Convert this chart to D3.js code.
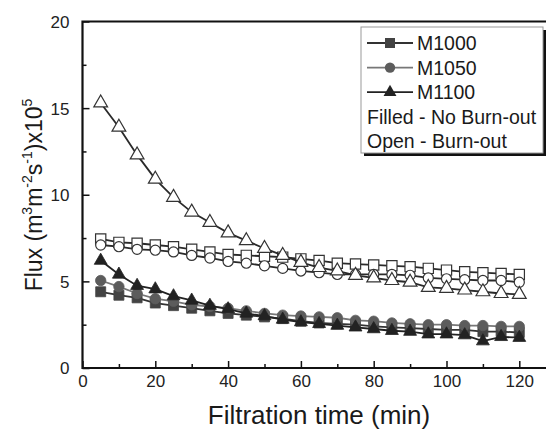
<!DOCTYPE html>
<html lang="en">
<head>
  <meta charset="UTF-8">
  <title>Flux vs filtration time</title>
  <script src="https://d3js.org/d3.v7.min.js"></script>
  <style>
    body { margin: 0; padding: 0; background: #fff; }
    svg { display: block; font-family: 'Liberation Sans', Arial, sans-serif; }
  </style>
</head>
<body>
  <div id="chart"></div>
  <script>
    // filtration time (min)
    const time = [5, 10, 15, 20, 25, 30, 35, 40, 45, 50, 55, 60, 65, 70, 75, 80, 85, 90, 95, 100, 105, 110, 115, 120];

    // flux x10^5, filled = no burn-out
    const m1000Filled = [4.4, 4.2, 4.05, 3.75, 3.6, 3.45, 3.3, 3.15, 3.05, 2.95, 2.85, 2.7, 2.6, 2.55, 2.5, 2.4, 2.35, 2.3, 2.25, 2.2, 2.2, 2.1, 2.1, 2.05];
    const m1050Filled = [5.05, 4.7, 4.3, 4.0, 3.85, 3.65, 3.55, 3.45, 3.3, 3.15, 3.05, 3.0, 2.95, 2.9, 2.75, 2.7, 2.6, 2.55, 2.5, 2.5, 2.45, 2.45, 2.4, 2.4];
    const m1100Filled = [6.2, 5.4, 4.75, 4.55, 4.15, 3.9, 3.6, 3.4, 3.15, 3.0, 2.8, 2.65, 2.55, 2.45, 2.35, 2.25, 2.15, 2.1, 1.95, 1.95, 1.9, 1.55, 1.8, 1.75];

    // open = burn-out
    const m1000Open = [7.45, 7.25, 7.2, 7.1, 7.0, 6.85, 6.7, 6.55, 6.5, 6.45, 6.4, 6.3, 6.2, 6.05, 6.0, 5.95, 5.9, 5.85, 5.75, 5.65, 5.55, 5.5, 5.45, 5.4];
    const m1050Open = [7.1, 7.0, 6.85, 6.8, 6.7, 6.5, 6.35, 6.15, 6.05, 5.9, 5.75, 5.6, 5.5, 5.4, 5.4, 5.4, 5.4, 5.35, 5.2, 5.15, 5.1, 5.05, 5.05, 4.95];
    const m1100Open = [15.3, 13.9, 12.3, 10.9, 9.85, 9.0, 8.4, 7.8, 7.35, 6.9, 6.5, 6.1, 5.8, 5.6, 5.35, 5.2, 5.05, 4.95, 4.65, 4.6, 4.5, 4.4, 4.3, 4.25];

    const xTicks = [0, 20, 40, 60, 80, 100, 120];
    const yTicks = [0, 5, 10, 15, 20];
    const legendLabels = ["M1000", "M1050", "M1100"];
    const legendNotes = ["Filled - No Burn-out", "Open - Burn-out"];

    const W = 546, H = 429;
    const svg = d3.select("#chart").append("svg")
      .attr("width", W)
      .attr("height", H);

    const x = d3.scaleLinear().domain([0, 140]).range([82.5, 82.5 + 140 * 3.64]);
    const y = d3.scaleLinear().domain([0, 20]).range([368, 21.5]);

    const styles = {
      M1000: { sym: d3.symbolSquare, size: 100, fill: "#434343", line: "#333", openSize: 105 },
      M1050: { sym: d3.symbolCircle, size: 85, fill: "#5c5c5c", line: "#777", openSize: 80 },
      M1100: { sym: d3.symbolTriangle, size: 72, fill: "#222", line: "#222", openSize: 82 }
    };

    const series = [
      { key: "M1000", open: true, values: m1000Open },
      { key: "M1050", open: true, values: m1050Open },
      { key: "M1100", open: true, values: m1100Open },
      { key: "M1000", open: false, values: m1000Filled },
      { key: "M1050", open: false, values: m1050Filled },
      { key: "M1100", open: false, values: m1100Filled }
    ];

    const line = d3.line()
      .x(d => x(d[0]))
      .y(d => y(d[1]));

    series.forEach(s => {
      const st = styles[s.key];
      const pts = time.map((t, i) => [t, s.values[i]]);
      const g = svg.append("g");
      g.append("path")
        .attr("d", line(pts))
        .attr("fill", "none")
        .attr("stroke", s.open ? "#2a2a2a" : st.line)
        .attr("stroke-width", 1.8);
      g.selectAll("path.pt")
        .data(pts)
        .enter().append("path")
        .attr("class", "pt")
        .attr("transform", d => "translate(" + x(d[0]) + "," + y(d[1]) + ")")
        .attr("d", d3.symbol().type(st.sym).size(s.open ? st.openSize : st.size))
        .attr("fill", s.open ? "#fff" : st.fill)
        .attr("stroke", s.open ? "#333" : st.fill)
        .attr("stroke-width", s.open ? 1.2 : 0.8);
    });

    // axes (ticks point inward)
    const xAxis = svg.append("g")
      .attr("transform", "translate(0," + y(0) + ")")
      .call(d3.axisBottom(x).tickValues(d3.range(0, 141, 10)).tickSize(0).tickFormat(""));
    xAxis.select(".domain").remove();
    xAxis.selectAll(".tick line")
      .attr("y2", d => d % 20 === 0 ? -7 : -4)
      .attr("stroke", "#111").attr("stroke-width", 1.5);
    xAxis.selectAll(".tick")
      .filter(d => xTicks.includes(d))
      .append("text")
      .attr("y", 19)
      .attr("fill", "#222")
      .attr("font-size", 17)
      .attr("text-anchor", "middle")
      .text(d => d);

    const yAxis = svg.append("g")
      .attr("transform", "translate(" + x(0) + ",0)")
      .call(d3.axisLeft(y).tickValues(d3.range(0, 20.1, 2.5)).tickSize(0).tickFormat(""));
    yAxis.select(".domain").remove();
    yAxis.selectAll(".tick line")
      .attr("x2", d => d % 5 === 0 ? 7 : 4)
      .attr("stroke", "#111").attr("stroke-width", 1.5);
    yAxis.selectAll(".tick")
      .filter(d => yTicks.includes(d))
      .append("text")
      .attr("x", -13)
      .attr("dy", "0.35em")
      .attr("fill", "#222")
      .attr("font-size", 17)
      .attr("text-anchor", "end")
      .text(d => d);

    // frame
    svg.append("path")
      .attr("d", "M" + x(140) + "," + y(20) + "H" + x(0) + "V" + y(0) + "H" + x(140))
      .attr("fill", "none")
      .attr("stroke", "#111")
      .attr("stroke-width", 2.2);

    // axis titles
    svg.append("text")
      .attr("x", 319)
      .attr("y", 424)
      .attr("text-anchor", "middle")
      .attr("font-size", 26)
      .attr("fill", "#1a1a1a")
      .text("Filtration time (min)");

    const yt = svg.append("text")
      .attr("transform", "translate(42,195) rotate(-90)")
      .attr("text-anchor", "middle")
      .attr("font-size", 23)
      .attr("fill", "#1a1a1a");
    const sup = (txt) => yt.append("tspan").attr("font-size", 14).attr("dy", -10).text(txt);
    const base = (txt) => yt.append("tspan").attr("dy", 10).text(txt);
    yt.append("tspan").text("Flux (m");
    sup("3"); base("m"); sup("-2"); base("s"); sup("-1"); base(")x10"); sup("5");

    // legend
    const lg = svg.append("g").attr("transform", "translate(361,27)");
    lg.append("rect")
      .attr("x", 3).attr("y", 3).attr("width", 182).attr("height", 126)
      .attr("fill", "#111");
    lg.append("rect")
      .attr("width", 182).attr("height", 126)
      .attr("fill", "#fff").attr("stroke", "#999").attr("stroke-width", 1);

    legendLabels.forEach((k, i) => {
      const st = styles[k];
      const row = lg.append("g").attr("transform", "translate(0," + (16 + i * 24.6) + ")");
      row.append("line")
        .attr("x1", 6).attr("x2", 52)
        .attr("stroke", st.line).attr("stroke-width", 1.8);
      row.append("path")
        .attr("transform", "translate(29,0)")
        .attr("d", d3.symbol().type(st.sym).size(st.size))
        .attr("fill", st.fill);
      row.append("text")
        .attr("x", 56).attr("dy", "0.36em")
        .attr("font-size", 19.5).attr("fill", "#1a1a1a")
        .text(k);
    });
    legendNotes.forEach((t, i) => {
      lg.append("text")
        .attr("x", 6).attr("y", 16 + (i + 3) * 24.6).attr("dy", "0.36em")
        .attr("font-size", 19.5).attr("fill", "#1a1a1a")
        .text(t);
    });
  </script>
</body>
</html>
